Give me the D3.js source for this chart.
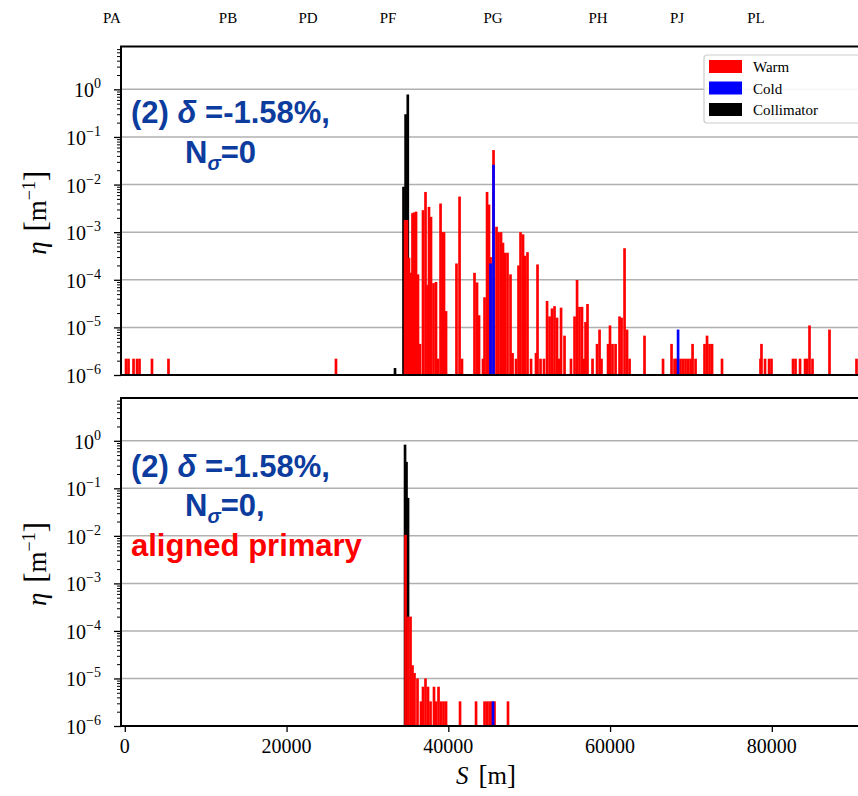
<!DOCTYPE html>
<html>
<head>
<meta charset="utf-8">
<script src="https://cdn.jsdelivr.net/npm/d3@7"></script>
<style>
  body { margin: 0; background: #fff; }
  svg { display: block; }
</style>
</head>
<body>
<svg id="chart" width="858" height="796"></svg>
<script>
// ---- Beam-loss map data: [S (m), eta (1/m)] per element type ----
// Panel (a): off-momentum beam, nominal collimator settings
const warmLossA = [
  [150, 2.2e-6], [460, 2.2e-6], [1080, 2.2e-6], [1510, 2.2e-6], [1820, 2.2e-6], [3360, 2.2e-6], [5400, 2.2e-6], [26110, 2.2e-6],
  [34650, 1.8e-3], [34890, 1.8e-3], [35140, 2.9e-4], [35390, 1.4e-4], [35570, 2.5e-3], [35760, 2.6e-3], [36010, 2.7e-3],
  [36250, 1.3e-4], [36500, 4.5e-6], [36870, 2.9e-3], [37180, 7.0e-3], [37430, 7.8e-5], [37610, 3.4e-3], [37860, 2.1e-3],
  [38170, 8.5e-5], [38480, 9.0e-5], [38730, 2.2e-6], [39040, 4.0e-3], [39280, 1.0e-3], [39470, 1.0e-3], [39720, 2.2e-5],
  [41010, 2.2e-4], [41390, 5.6e-3], [41690, 2.2e-6], [43240, 1.4e-4], [43550, 8.8e-5], [43800, 1.8e-5], [44290, 2.2e-6],
  [44480, 4.3e-5], [44790, 7.0e-3], [45030, 3.8e-3], [45220, 3.0e-4], [45590, 5.3e-2], [45960, 1.3e-3], [46210, 1.0e-3],
  [46520, 1.0e-3], [46760, 6.0e-4], [47010, 3.7e-4], [47320, 3.7e-4], [47690, 1.3e-4], [47940, 2.9e-6], [48370, 2.2e-6],
  [48680, 2.0e-4], [48930, 1.0e-3], [49240, 9.0e-4], [49480, 3.2e-4], [49790, 3.8e-4], [50230, 2.2e-6], [50840, 2.9e-6],
  [51030, 2.1e-4], [51400, 2.2e-6], [51830, 2.2e-6], [52210, 3.6e-5], [52520, 1.7e-5], [52820, 2.5e-5], [53130, 2.8e-5],
  [53440, 1.6e-5], [53690, 2.2e-6], [53940, 2.6e-5], [54370, 6.7e-6], [55170, 2.2e-6], [55610, 1.7e-5], [55920, 9.9e-5],
  [56220, 2.7e-5], [56530, 2.7e-5], [56780, 2.2e-6], [56970, 1.3e-5], [57210, 3.1e-5], [57830, 2.2e-6], [58390, 4.5e-6],
  [58700, 9.0e-6], [58940, 2.2e-6], [59750, 4.5e-6], [59990, 1.1e-5], [60300, 4.5e-6], [60680, 4.5e-6], [61170, 1.7e-5],
  [61420, 1.6e-5], [61790, 4.6e-4], [62100, 9.0e-6], [62410, 2.2e-6], [64260, 6.7e-6], [66550, 2.2e-6], [67600, 4.5e-6],
  [67970, 2.2e-6], [68160, 2.2e-6], [68710, 2.2e-6], [69020, 2.2e-6], [69330, 2.2e-6], [69640, 2.2e-6], [69950, 2.2e-6],
  [70200, 4.5e-6], [70570, 2.2e-6], [71680, 4.5e-6], [71990, 6.7e-6], [72300, 4.5e-6], [72610, 4.5e-6], [73840, 2.2e-6],
  [78600, 2.2e-6], [78720, 4.5e-6], [79160, 2.2e-6], [79660, 2.2e-6], [79960, 2.2e-6], [82620, 2.2e-6], [82930, 2.2e-6],
  [83490, 2.2e-6], [84110, 2.2e-6], [84350, 2.2e-6], [84660, 1.1e-5], [85030, 2.2e-6], [87130, 9.0e-6], [90470, 2.2e-6]
];
const coldLossA = [[45220, 2.2e-4], [45590, 2.6e-2], [68410, 9.0e-6]];
const collLossA = [[33410, 1.4e-6], [34460, 9.0e-3], [34720, 0.30], [34990, 0.78]];

// Panel (b): same beam with the primary collimator aligned
const warmLossB = [
  [34710, 1.05e-2], [35020, 2.0e-4], [35330, 2.0e-4], [35570, 1.9e-5], [35820, 1.3e-5], [36190, 1.0e-5], [36620, 3.3e-6],
  [36870, 6.7e-6], [37180, 1.0e-5], [37490, 6.7e-6], [37800, 3.3e-6], [38230, 6.7e-6], [38480, 3.3e-6], [38790, 6.7e-6],
  [39100, 3.3e-6], [39410, 3.3e-6], [39720, 3.3e-6], [41450, 3.3e-6], [43430, 3.3e-6], [44480, 3.3e-6], [44790, 3.3e-6],
  [45100, 3.3e-6], [45340, 3.3e-6], [45710, 3.3e-6], [47380, 3.3e-6]
];
const coldLossB = [[45530, 3.3e-6]];
const collLossB = [[34650, 0.83], [34830, 0.36], [35020, 0.063]];

// Ring sector markers along the top
const sectorNames = ["PA", "PB", "PD", "PF", "PG", "PH", "PJ", "PL"];
const sectorS = [-1580, 12760, 22650, 32550, 45530, 58510, 68290, 78050];

// Axis ticks
const xTickValues = [0, 20000, 40000, 60000, 80000];
const yDecades = [0, -1, -2, -3, -4, -5, -6];
const legendLabels = ["Warm", "Cold", "Collimator"];

// ---- Layout / style ----
const COLORS = { warm: "#ff0000", cold: "#0000ff", coll: "#000000" };
const SERIF = "'Liberation Serif', 'DejaVu Serif', serif";
const SANS = "'Liberation Sans', Arial, sans-serif";
const NOTE_BLUE = "#0b3c9e";
const BIN = 330;        // drawn bar width in metres
const Y_MIN = 1e-6, Y_MAX = Math.pow(10, 0.9);
const LEFT = 121, RIGHT = 862;

const svg = d3.select("#chart");
const x = d3.scaleLinear().domain([-470, 91150]).range([LEFT, RIGHT]);

const panels = [
  { top: 46.5, bottom: 375, warm: warmLossA, cold: coldLossA, coll: collLossA,
    notes: [
      { x: 131, y: 123, parts: [["(2) ", null], ["δ", "italic"], [" =-1.58%,", null]], color: NOTE_BLUE },
      { x: 185, y: 163, parts: [["N", null], ["σ", "sub"], ["=0", "back"]], color: NOTE_BLUE }
    ] },
  { top: 398, bottom: 726, warm: warmLossB, cold: coldLossB, coll: collLossB,
    notes: [
      { x: 131, y: 477, parts: [["(2) ", null], ["δ", "italic"], [" =-1.58%,", null]], color: NOTE_BLUE },
      { x: 185, y: 516, parts: [["N", null], ["σ", "sub"], ["=0,", "back"]], color: NOTE_BLUE },
      { x: 131, y: 556, parts: [["aligned primary", null]], color: "#ff0000" }
    ] }
];

panels.forEach((p, i) => {
  const y = d3.scaleLog().domain([Y_MIN, Y_MAX]).range([p.bottom, p.top]);
  const g = svg.append("g");

  const clipId = "clip" + i;
  svg.append("clipPath").attr("id", clipId)
    .append("rect").attr("x", LEFT).attr("y", p.top).attr("width", RIGHT - LEFT).attr("height", p.bottom - p.top);

  // horizontal grid at every decade
  g.append("g").selectAll("line").data(yDecades.filter(e => e > -6)).join("line")
    .attr("x1", LEFT).attr("x2", RIGHT)
    .attr("y1", e => y(Math.pow(10, e))).attr("y2", e => y(Math.pow(10, e)))
    .attr("stroke", "#b0b0b0").attr("stroke-width", 1.5);

  // loss bars: collimators first, warm on top, then cold
  const bars = g.append("g").attr("clip-path", `url(#${clipId})`);
  const w = x(BIN) - x(0);
  [["coll", p.coll], ["warm", p.warm], ["cold", p.cold]].forEach(([kind, data]) => {
    bars.append("g").selectAll("rect").data(data).join("rect")
      .attr("x", d => x(d[0]) - w / 2)
      .attr("width", w)
      .attr("y", d => y(d[1]))
      .attr("height", d => y(Y_MIN) - y(d[1]))
      .attr("fill", COLORS[kind]);
  });

  // minor y ticks
  const minor = [];
  for (let e = -6; e <= 0; e++) for (let m = 2; m <= 9; m++) {
    const v = m * Math.pow(10, e);
    if (v <= Y_MAX) minor.push(v);
  }
  g.append("g").attr("transform", `translate(${LEFT},0)`)
    .call(d3.axisLeft(y).tickValues(minor).tickSize(4).tickFormat(""))
    .call(a => a.select(".domain").remove())
    .call(a => a.selectAll("line").attr("stroke", "#000").attr("stroke-width", 1));

  // major y ticks with power-of-ten labels
  const major = yDecades.map(e => Math.pow(10, e));
  g.append("g").attr("transform", `translate(${LEFT},0)`)
    .call(d3.axisLeft(y).tickValues(major).tickSize(7).tickFormat(""))
    .call(a => a.select(".domain").remove())
    .call(a => a.selectAll("line").attr("stroke", "#000").attr("stroke-width", 1.3));

  yDecades.forEach(e => {
    const t = g.append("text")
      .attr("x", 101).attr("y", y(Math.pow(10, e)) + 8)
      .attr("text-anchor", "end")
      .attr("font-family", SERIF).attr("font-size", 20).attr("fill", "#000");
    t.append("tspan").text("10");
    t.append("tspan").attr("dy", -9).attr("font-size", 14).text(e === 0 ? "0" : "−" + (-e));
  });

  // y-axis title
  const yl = g.append("text")
    .attr("transform", `translate(46,${(p.top + p.bottom) / 2 + 2}) rotate(-90)`)
    .attr("text-anchor", "middle")
    .attr("font-family", SERIF).attr("font-size", 27).attr("fill", "#000");
  yl.append("tspan").attr("font-style", "italic").text("η");
  yl.append("tspan").attr("dx", 10).attr("font-size", 31).text("[");
  yl.append("tspan").text("m");
  yl.append("tspan").attr("dy", -11).attr("font-size", 18).text("−1");
  yl.append("tspan").attr("dy", 11).attr("font-size", 31).text("]");

  // frame
  g.append("line").attr("x1", LEFT).attr("x2", LEFT).attr("y1", p.top).attr("y2", p.bottom)
    .attr("stroke", "#000").attr("stroke-width", 2);
  g.append("line").attr("x1", LEFT - 1).attr("x2", RIGHT).attr("y1", p.top).attr("y2", p.top)
    .attr("stroke", "#000").attr("stroke-width", 2);
  g.append("line").attr("x1", LEFT - 1).attr("x2", RIGHT).attr("y1", p.bottom).attr("y2", p.bottom)
    .attr("stroke", "#000").attr("stroke-width", 2);

  // annotations
  p.notes.forEach(n => {
    const t = g.append("text").attr("x", n.x).attr("y", n.y)
      .attr("font-family", SANS).attr("font-weight", "bold").attr("font-size", 31).attr("fill", n.color);
    n.parts.forEach(([s, style]) => {
      const ts = t.append("tspan").text(s);
      if (style === "italic") ts.attr("font-style", "italic");
      if (style === "sub") ts.attr("font-style", "italic").attr("font-size", 20).attr("dy", 7);
      if (style === "back") ts.attr("dy", -7);
    });
  });

  // x axis on the lower panel only
  if (i === 1) {
    g.append("g").attr("transform", `translate(0,${p.bottom})`)
      .call(d3.axisBottom(x).tickValues(xTickValues).tickSize(6).tickFormat(""))
      .call(a => a.select(".domain").remove())
      .call(a => a.selectAll("line").attr("stroke", "#000").attr("stroke-width", 1.3));
    g.append("g").selectAll("text").data(xTickValues).join("text")
      .attr("x", d => x(d)).attr("y", 753)
      .attr("text-anchor", "middle")
      .attr("font-family", SERIF).attr("font-size", 20).attr("fill", "#000")
      .text(d => String(d));
    const xl = g.append("text").attr("x", 486).attr("y", 784)
      .attr("text-anchor", "middle")
      .attr("font-family", SERIF).attr("font-size", 25).attr("fill", "#000");
    xl.append("tspan").attr("font-style", "italic").text("S");
    xl.append("tspan").attr("dx", 10).attr("font-size", 27).text("[");
    xl.append("tspan").text("m");
    xl.append("tspan").attr("font-size", 27).text("]");
  }

  // legend on the upper panel
  if (i === 0) {
    const lg = g.append("g");
    lg.append("rect").attr("x", 704).attr("y", 55).attr("width", 160).attr("height", 68)
      .attr("rx", 3).attr("fill", "#fff").attr("fill-opacity", 0.9)
      .attr("stroke", "#cccccc").attr("stroke-width", 1.2);
    const kinds = ["warm", "cold", "coll"];
    legendLabels.forEach((lab, k) => {
      lg.append("rect").attr("x", 709).attr("y", 60 + k * 21.5).attr("width", 33).attr("height", 13)
        .attr("fill", COLORS[kinds[k]]);
      lg.append("text").attr("x", 753).attr("y", 72 + k * 21.5)
        .attr("font-family", SERIF).attr("font-size", 15).attr("fill", "#000").text(lab);
    });
  }
});

// sector names along the top
svg.append("g").selectAll("text").data(sectorNames).join("text")
  .attr("x", (d, k) => x(sectorS[k])).attr("y", 23)
  .attr("text-anchor", "middle")
  .attr("font-family", SERIF).attr("font-size", 15).attr("fill", "#000")
  .text(d => d);
</script>
</body>
</html>
